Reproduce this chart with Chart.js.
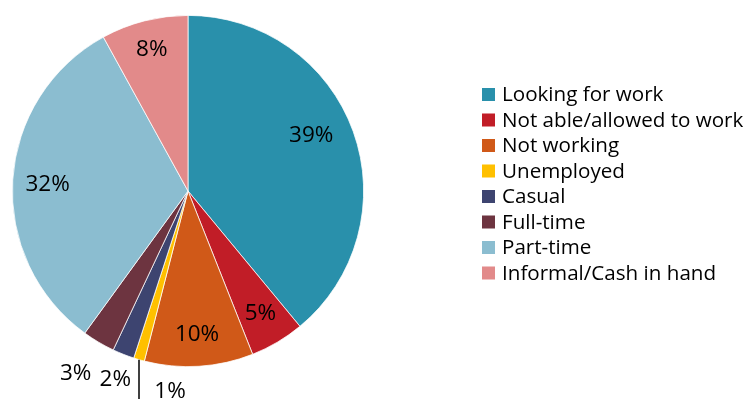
<!DOCTYPE html>
<html>
<head>
<meta charset="utf-8">
<script src="https://cdn.jsdelivr.net/npm/chart.js@4"></script>
<style>
	html, body { margin: 0; padding: 0; background: #fff; }
</style>
</head>
<body>
<canvas id="workChart" width="753" height="399"></canvas>
<script>
const categories = ["Looking for work", "Not able/allowed to work", "Not working", "Unemployed", "Casual", "Full-time", "Part-time", "Informal/Cash in hand"];
const shares = [39, 5, 10, 1, 2, 3, 32, 8];
const colours = ["#2990ab", "#c11d27", "#d05918", "#ffc000", "#3d4470", "#6d3440", "#8bbdd0", "#e28a8a"];

// percentage labels: distance from centre as a fraction of the radius, plus a small angle nudge (degrees)
const labelRadius = [0.77, 0.81, 0.82, 1.14, 1.15, 1.22, 0.80, 0.83];
const labelNudge = [-4.5, 0, 0, 0, -0.5, 1, -1, 0];
const leaderSlices = [3];

const fontFamily = "'Open Sans', sans-serif";

const sliceLabels = {
	id: "sliceLabels",
	afterDatasetsDraw(chart) {
		const ctx = chart.ctx;
		const meta = chart.getDatasetMeta(0);
		ctx.save();
		ctx.font = "22.5px " + fontFamily;
		ctx.fillStyle = "#000";
		ctx.textAlign = "center";
		ctx.textBaseline = "middle";
		meta.data.forEach((arc, i) => {
			const { x, y, startAngle, endAngle, outerRadius } = arc.getProps(["x", "y", "startAngle", "endAngle", "outerRadius"], true);
			const mid = (startAngle + endAngle) / 2;
			const text = shares[i] + "%";
			if (leaderSlices.includes(i)) {
				const ex = x + outerRadius * Math.cos(mid);
				const ey = y + outerRadius * Math.sin(mid);
				ctx.beginPath();
				ctx.moveTo(ex, ey);
				ctx.lineTo(ex, chart.height);
				ctx.strokeStyle = "#000";
				ctx.lineWidth = 1.5;
				ctx.stroke();
				ctx.fillText(text, ex + 31, y + outerRadius * labelRadius[i]);
				return;
			}
			const a = mid + labelNudge[i] * Math.PI / 180;
			const r = outerRadius * labelRadius[i];
			ctx.fillText(text, x + r * Math.cos(a), y + r * Math.sin(a));
		});
		ctx.restore();
	}
};

const sideLegend = {
	id: "sideLegend",
	afterDraw(chart) {
		const ctx = chart.ctx;
		const left = 482, top = 94.5, step = 25.5, box = 13;
		ctx.save();
		ctx.font = "20.6px " + fontFamily;
		ctx.textBaseline = "middle";
		categories.forEach((name, i) => {
			const cy = top + i * step;
			ctx.fillStyle = colours[i];
			ctx.fillRect(left, cy - box / 2, box, box);
			ctx.fillStyle = "#000";
			ctx.fillText(name, left + box + 7, cy + 1);
		});
		ctx.restore();
	}
};

function drawChart() {
	new Chart("workChart", {
		type: "pie",
		data: {
			labels: categories,
			datasets: [{
				data: shares,
				backgroundColor: colours,
				borderColor: "#ffffff",
				borderWidth: 0.75,
			}],
		},
		options: {
			responsive: false,
			animation: false,
			layout: { padding: { left: 0, right: 377, top: 15, bottom: 32 } },
			plugins: {
				legend: { display: false },
				tooltip: { enabled: false },
			},
		},
		plugins: [sliceLabels, sideLegend],
	});
}

document.fonts.load("20px 'Open Sans'").then(drawChart, drawChart);
</script>
</body>
</html>
